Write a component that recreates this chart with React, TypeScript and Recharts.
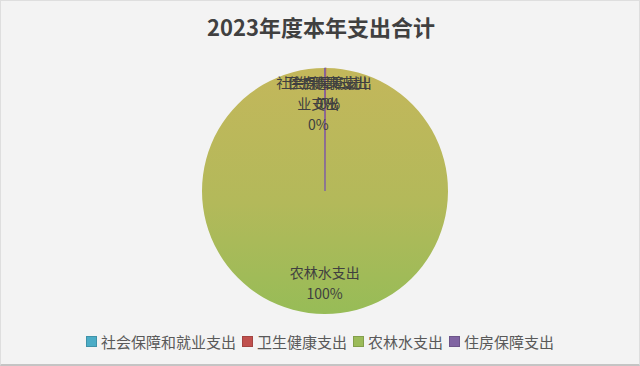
import { PieChart, Pie, Cell, Legend } from "recharts"

document.body.style.margin = "0"

const categories = ["社会保障和就业支出", "卫生健康支出", "农林水支出", "住房保障支出"]
const amounts = [2, 1, 1800, 1]
const colors = ["#4bacc6", "#c0504d", "#9bbb59", "#8064a2"]
const fills = ["url(#gBlue)", "url(#gRed)", "url(#gGreen)", "url(#gPurple)"]

const data = categories.map((name, i) => ({ name, value: amounts[i] }))

const FONT = '"Noto Sans CJK SC", "Noto Sans", sans-serif'

// Excel-like wrap: at most 6 chars per line
function wrap(name: string) {
  const lines: string[] = []
  for (let i = 0; i < name.length; i += 6) lines.push(name.slice(i, i + 6))
  return lines
}

const nudge = [-7, 0, 0, 5]

function renderLabel(props: any) {
  const { cx, cy, midAngle, outerRadius, percent, name, index } = props
  const RAD = Math.PI / 180
  const r = outerRadius * 0.77
  const x = cx + r * Math.cos(-midAngle * RAD) + (nudge[index] || 0)
  const y = cy + r * Math.sin(-midAngle * RAD)
  const lines = [...wrap(name), `${Math.round(percent * 100)}%`]
  return (
    <text x={x} y={y} textAnchor="middle" fill="#404040" fontSize={14} fontFamily={FONT}>
      {lines.map((l, i) => (
        <tspan key={i} x={x} y={y - 14 + 21 * i} dominantBaseline="central">
          {l}
        </tspan>
      ))}
    </text>
  )
}

function LegendContent() {
  return (
    <div style={{ display: "flex", justifyContent: "center", alignItems: "center", fontFamily: FONT, fontSize: 15, color: "#595959" }}>
      {categories.map((c, i) => (
        <div key={c} style={{ display: "flex", alignItems: "center", marginRight: i < categories.length - 1 ? 6 : 0 }}>
          <span style={{ width: 9, height: 9, background: colors[i], border: "1px solid rgba(0,0,0,0.15)", marginRight: 4, display: "inline-block" }} />
          <span>{c}</span>
        </div>
      ))}
    </div>
  )
}

export default function App() {
  return (
    <div style={{ position: "relative", width: 640, height: 366, background: "#f3f3f3", boxSizing: "border-box", border: "1px solid #dedede", borderBottom: "2px solid #c4c4c4" }}>
      <div style={{ position: "absolute", top: 9, left: 0, width: 640, textAlign: "center", fontFamily: FONT, fontSize: 22, fontWeight: 700, color: "#404040" }}>
        2023年度本年支出合计
      </div>
      <PieChart width={638} height={363} style={{ position: "absolute", top: 0, left: 0 }}>
        <defs>
          <linearGradient id="gGreen" x1="0" y1="0" x2="0" y2="1">
            <stop offset="0%" stopColor="#c3b75b" />
            <stop offset="55%" stopColor="#b3b95a" />
            <stop offset="100%" stopColor="#97bc57" />
          </linearGradient>
          <linearGradient id="gBlue" x1="0" y1="0" x2="0" y2="1">
            <stop offset="0%" stopColor="#4bacc6" />
            <stop offset="100%" stopColor="#4bacc6" />
          </linearGradient>
          <linearGradient id="gRed" x1="0" y1="0" x2="0" y2="1">
            <stop offset="0%" stopColor="#c0504d" />
            <stop offset="100%" stopColor="#c0504d" />
          </linearGradient>
          <linearGradient id="gPurple" x1="0" y1="0" x2="0" y2="1">
            <stop offset="0%" stopColor="#8064a2" />
            <stop offset="100%" stopColor="#8064a2" />
          </linearGradient>
        </defs>
        <Pie
          data={data}
          dataKey="value"
          nameKey="name"
          cx={319}
          cy={185}
          outerRadius={123}
          startAngle={90}
          endAngle={-270}
          label={renderLabel}
          labelLine={false}
          isAnimationActive={false}
        >
          {data.map((d, i) => (
            <Cell key={d.name} fill={fills[i]} stroke={i === 2 ? "none" : colors[i]} strokeWidth={1} />
          ))}
        </Pie>
        <Legend content={<LegendContent />} wrapperStyle={{ top: 330, left: 0, width: 638 }} />
      </PieChart>
    </div>
  )
}
